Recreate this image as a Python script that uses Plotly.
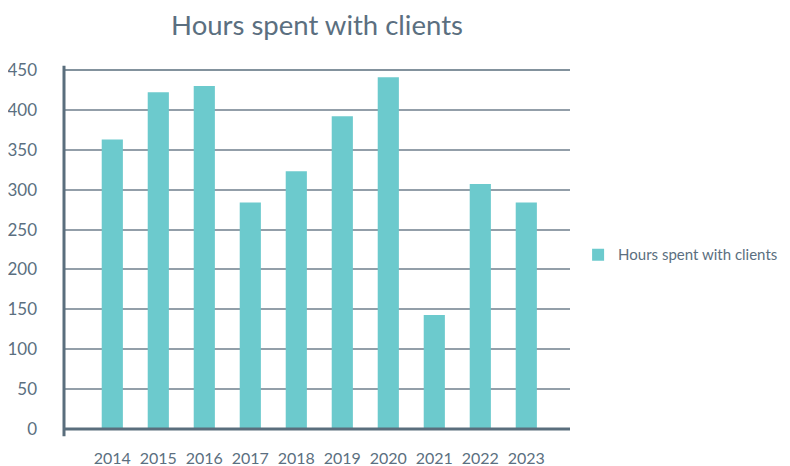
import plotly.graph_objects as go

years = ["2014", "2015", "2016", "2017", "2018", "2019", "2020", "2021", "2022", "2023"]
hours = [363, 422, 430, 284, 323, 392, 441, 143, 307, 284]
series_name = "Hours spent with clients"
y_ticks = [0, 50, 100, 150, 200, 250, 300, 350, 400, 450]

text_color = "#5b6f80"
bar_color = "#6ccacd"
axis_color = "#5a6e7d"
grid_color = "#939fa9"
font_family = "Lato, 'Open Sans', sans-serif"

fig = go.Figure()
fig.add_trace(go.Bar(
    x=years, y=hours, name=series_name,
    marker=dict(color=bar_color, line=dict(width=0)),
    showlegend=True,
))

# page has an 8px body margin, so the figure is sized 782x458
fig.update_layout(
    width=782, height=458,
    margin=dict(l=56, r=220, t=62, b=37, autoexpand=False),
    paper_bgcolor="white", plot_bgcolor="white",
    font=dict(family=font_family, color=text_color, size=16),
    title=dict(text="Hours spent with clients", xref="paper", x=0.5, xanchor="center",
               yref="container", y=0.962, yanchor="middle",
               font=dict(size=27.5, color=text_color, family=font_family),
               automargin=False),
    bargap=0.54,
    showlegend=True,
    legend=dict(x=1.016, xanchor="left", y=0.485, yanchor="middle",
                font=dict(size=15, color=text_color), bgcolor="rgba(0,0,0,0)",
                itemsizing="constant"),
    xaxis=dict(type="category", range=[-1.05, 9.95], showgrid=False,
               showline=False, zeroline=False, ticks="", automargin=False,
               tickfont=dict(size=16, color=text_color), ticklabelstandoff=18),
    yaxis=dict(range=[0, 450], tickvals=y_ticks, showgrid=True,
               gridcolor=grid_color, gridwidth=1.5, zeroline=False,
               showline=False, ticks="", automargin=False,
               tickfont=dict(size=17, color=text_color), ticklabelstandoff=26),
)

# axis lines
fig.add_shape(type="line", xref="paper", yref="paper", x0=0, x1=1, y0=0, y1=0,
              line=dict(color=axis_color, width=3))
fig.add_shape(type="line", xref="paper", yref="paper", x0=0, x1=0, y0=-0.02, y1=1.012,
              line=dict(color=axis_color, width=3))
fig.add_shape(type="line", xref="paper", yref="paper", x0=0, x1=1, y0=1, y1=1,
              line=dict(color=axis_color, width=1.5))

fig.write_html("out.html")
